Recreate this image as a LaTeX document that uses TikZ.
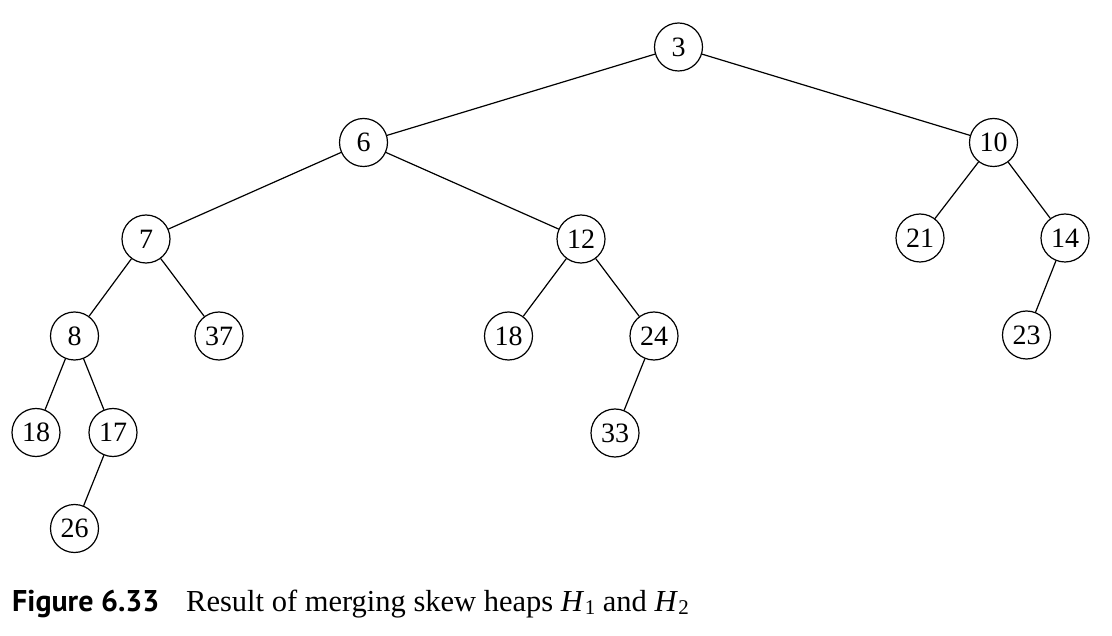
\documentclass[tikz,border=0pt]{standalone}
\usepackage{fontspec}
\setmainfont{Liberation Serif}
\newfontfamily\capfont{PT Sans}
\newcommand{\hsub}[1]{\textit{H}\kern0.5pt\raisebox{-0.22ex}{\fontsize{21}{24}\selectfont #1}}
\begin{document}
\begin{tikzpicture}[x=1pt,y=-1pt,
  hnode/.style={circle,draw,line width=1.2pt,minimum size=48pt,inner sep=0pt,font=\fontsize{28}{30}\selectfont},
  edge/.style={line width=1.2pt}]
\useasboundingbox (0,0) rectangle (1112,636);
\node[hnode] (n3) at (678.5,47) {3};
\node[hnode] (n6) at (363.5,142.5) {6};
\node[hnode] (n10) at (993.5,142.5) {10};
\node[hnode] (n7) at (146,239) {7};
\node[hnode] (n12) at (581,239) {12};
\node[hnode] (n21) at (920,238) {21};
\node[hnode] (n14) at (1065,238) {14};
\node[hnode] (n8) at (74.5,336) {8};
\node[hnode] (n37) at (219,336) {37};
\node[hnode] (n18a) at (508.5,336) {18};
\node[hnode] (n24) at (654,336) {24};
\node[hnode] (n23) at (1026.5,335) {23};
\node[hnode] (n18b) at (36,432.5) {18};
\node[hnode] (n17) at (113,432.5) {17};
\node[hnode] (n33) at (615,433) {33};
\node[hnode] (n26) at (74.5,528.5) {26};
\draw[edge] (n3) -- (n6);
\draw[edge] (n3) -- (n10);
\draw[edge] (n6) -- (n7);
\draw[edge] (n6) -- (n12);
\draw[edge] (n10) -- (n21);
\draw[edge] (n10) -- (n14);
\draw[edge] (n7) -- (n8);
\draw[edge] (n7) -- (n37);
\draw[edge] (n12) -- (n18a);
\draw[edge] (n12) -- (n24);
\draw[edge] (n14) -- (n23);
\draw[edge] (n8) -- (n18b);
\draw[edge] (n8) -- (n17);
\draw[edge] (n24) -- (n33);
\draw[edge] (n17) -- (n26);
\node[anchor=base west,inner sep=0pt,font=\capfont\bfseries\fontsize{30}{34}\selectfont] (figlbl) at (12,611) {Figure 6.33};
\node[anchor=base west,inner sep=0pt,font=\fontsize{30.5}{34}\selectfont] (cap) at (186,611) {Result of merging skew heaps \hsub{1} and \hsub{2}};
\end{tikzpicture}
\end{document}
